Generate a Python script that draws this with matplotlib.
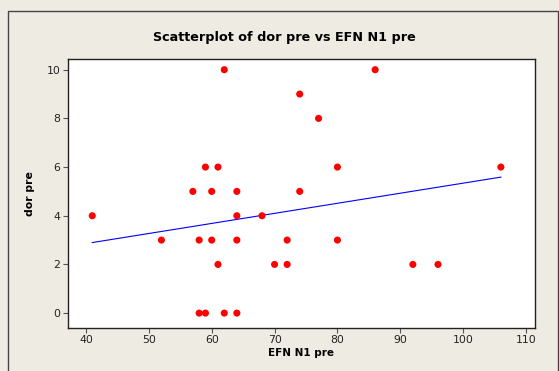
import matplotlib
matplotlib.use("Agg")
import matplotlib.pyplot as plt
from matplotlib.patches import Rectangle
import numpy as np

# data
efn_n1_pre = [41, 52, 57, 58, 58, 59, 59, 60, 60, 61, 61, 62, 62, 64, 64,
              64, 64, 68, 70, 72, 72, 74, 74, 77, 80, 80, 86, 92, 96, 106]
dor_pre = [4, 3, 5, 3, 0, 0, 6, 5, 3, 6, 2, 10, 0, 5, 4,
           3, 0, 4, 2, 3, 2, 9, 5, 8, 6, 3, 10, 2, 2, 6]
x_ticks = [40, 50, 60, 70, 80, 90, 100, 110]
y_ticks = [0, 2, 4, 6, 8, 10]

BG = "#EEEBE2"

fig = plt.figure(figsize=(5.59, 3.71), dpi=100, facecolor=BG)
# outer frame like the Minitab graph window
fig.patches.append(Rectangle((8 / 559, -0.05), 550 / 559, 1 - 10.5 / 371 + 0.05,
                             transform=fig.transFigure, fill=False,
                             edgecolor="#444444", linewidth=1.0))

ax = fig.add_axes([68 / 559, 1 - 327.7 / 371, 467 / 559, 268.7 / 371])
ax.set_facecolor("white")

# least squares fit line
slope, intercept = np.polyfit(efn_n1_pre, dor_pre, 1)
xl = np.array([min(efn_n1_pre), max(efn_n1_pre)])
ax.plot(xl, intercept + slope * xl, color="#0000FF", linewidth=0.8, zorder=2)

ax.scatter(efn_n1_pre, dor_pre, s=26, color="#FF0000", edgecolors="none", zorder=3)

ax.set_xlim(37.14, 111.43)
ax.set_ylim(-0.6, 10.44)
ax.set_xticks(x_ticks)
ax.set_yticks(y_ticks)
ax.tick_params(axis="both", direction="out", length=3.5, width=0.8,
               color="#555555", labelsize=7.8, labelcolor="#222222", pad=2)
for sp in ax.spines.values():
    sp.set_linewidth(1.0)
    sp.set_color("#222222")

ax.set_xlabel("EFN N1 pre", fontsize=7.5, fontweight="bold", labelpad=2)
ax.set_ylabel("dor pre", fontsize=7.8, fontweight="bold", labelpad=8)
fig.text(284 / 559, 1 - 37 / 371, "Scatterplot of dor pre vs EFN N1 pre",
         ha="center", va="center", fontsize=9.2, fontweight="bold")

fig.savefig("out.png", dpi=100, facecolor=BG)
